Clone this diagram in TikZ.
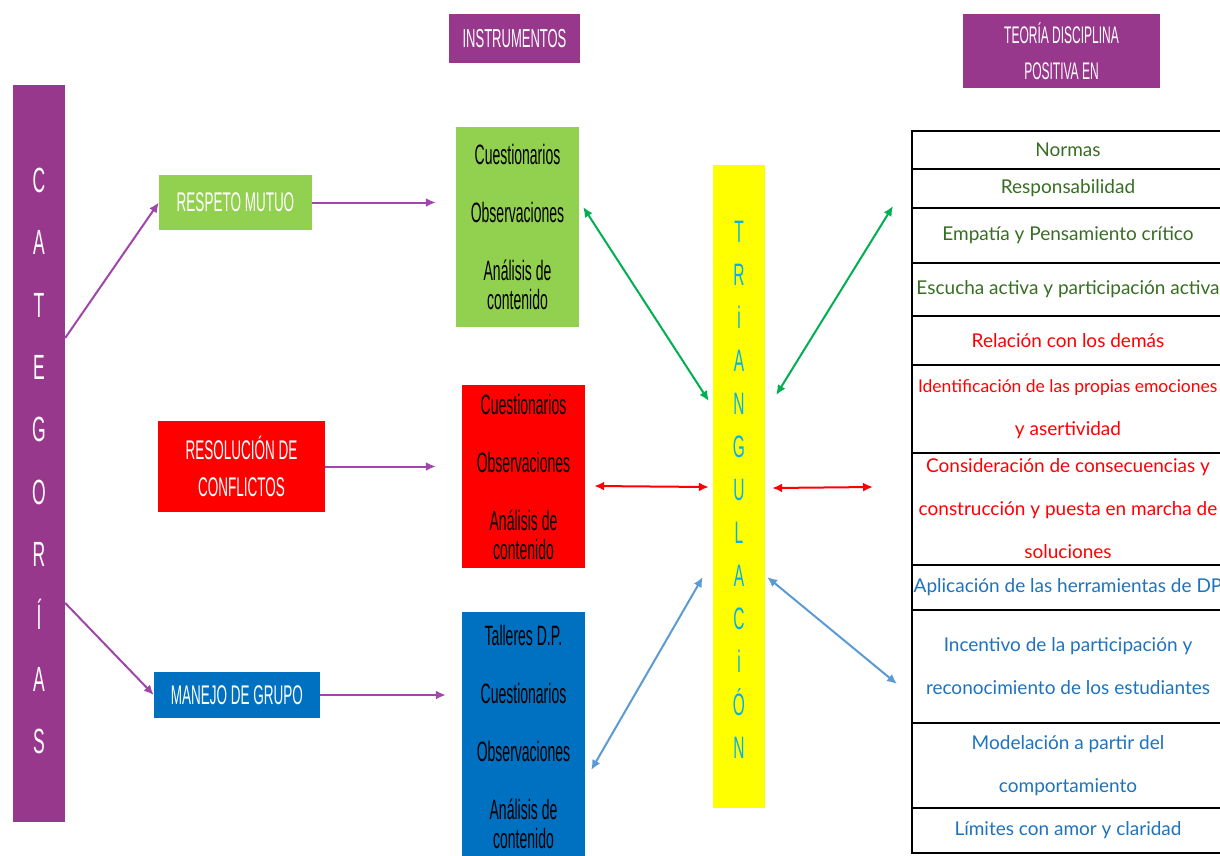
\documentclass[tikz,border=0pt]{standalone}
\usepackage{fontspec}
\setmainfont{Liberation Sans}
\newfontfamily\condfont[FakeStretch=0.5]{Liberation Sans}
\newfontfamily\handfont{Lato}
\usetikzlibrary{arrows.meta}
\usetikzlibrary{positioning}

\definecolor{morado}{RGB}{152,56,140}
\definecolor{flechamorada}{RGB}{160,70,170}
\definecolor{verdecaja}{RGB}{146,208,80}
\definecolor{rojocaja}{RGB}{255,0,0}
\definecolor{azulcaja}{RGB}{0,112,192}
\definecolor{amarillo}{RGB}{255,255,0}
\definecolor{celeste}{RGB}{0,176,240}
\definecolor{verdeflecha}{RGB}{0,176,80}
\definecolor{azulflecha}{RGB}{91,155,213}
\definecolor{verdetexto}{RGB}{56,110,36}
\definecolor{azultexto}{RGB}{30,115,190}

\tikzset{
  titulo/.style={fill=morado, text=white, inner sep=0pt, align=center,
    font=\condfont\fontsize{26}{36}\selectfont},
  categoria/.style={text=white, inner sep=0pt, align=center,
    font=\condfont\fontsize{27}{37}\selectfont},
  instrumento/.style={minimum width=123pt, inner sep=0pt, align=center,
    text=black, font=\condfont\fontsize{28}{29}\selectfont},
  fila/.style={draw, line width=1.2pt, minimum width=312pt,
    inner sep=0pt, outer sep=0pt, align=center,
    font=\handfont\fontsize{19}{43}\selectfont},
  punta/.style={-{Latex[length=10pt,width=9pt]}},
  flecha/.style={draw=flechamorada, line width=2pt, punta},
  doble/.style={line width=2pt, {Latex[length=10pt,width=9pt]}-{Latex[length=10pt,width=9pt]}},
}

\begin{document}
\begin{tikzpicture}[x=1pt,y=-1pt]
  \fill[white] (0,0) rectangle (1220,855);
  \useasboundingbox (0,0) rectangle (1220,855);

  % titulos
  \node[titulo, minimum width=131pt, minimum height=49pt] (instrumentos)
    at (514.5,38.5) {INSTRUMENTOS};
  \node[titulo, font=\condfont\fontsize{24}{36}\selectfont, minimum width=197pt,
    minimum height=74pt] (teoria) at (1061.5,51) {TEORÍA DISCIPLINA\\POSITIVA EN};

  % categorias
  \node[fill=morado, minimum width=52pt, minimum height=737pt, inner sep=0pt]
    (categorias) at (39,453.5) {};
  \node[text=white, align=center, inner sep=0pt,
    font=\condfont\fontsize{35}{62.4}\selectfont] (catletras) at (39,461)
    {C\\A\\T\\E\\G\\O\\R\\Í\\A\\S};

  \node[categoria, fill=verdecaja, minimum width=153pt, minimum height=55pt]
    (respeto) at (235.5,202.5) {RESPETO MUTUO};
  \node[categoria, fill=rojocaja, minimum width=167pt, minimum height=91pt]
    (resolucion) at (241.5,466.5) {RESOLUCIÓN DE\\CONFLICTOS};
  \node[categoria, fill=azulcaja, minimum width=166pt, minimum height=46pt]
    (manejo) at (237,695) {MANEJO DE GRUPO};

  % instrumentos
  \node[instrumento, fill=verdecaja, minimum height=200pt] (instverde)
    at (517.5,227) {Cuestionarios\\[29pt]Observaciones\\[29pt]Análisis de\\contenido};
  \node[instrumento, fill=rojocaja, minimum height=183pt] (instrojo)
    at (523.5,476.5) {Cuestionarios\\[29pt]Observaciones\\[29pt]Análisis de\\contenido};
  \node[instrumento, fill=azulcaja, minimum height=250pt] (instazul)
    at (523.5,737) {Talleres D.P.\\[29pt]Cuestionarios\\[29pt]Observaciones\\[29pt]Análisis de\\contenido};

  % triangulacion
  \node[fill=amarillo, minimum width=52pt, minimum height=643pt, inner sep=0pt]
    (triang) at (739,486.5) {};
  \node[text=celeste, align=center, inner sep=0pt,
    font=\condfont\fontsize{31}{43}\selectfont] (trianglet) at (739,490)
    {T\\R\\i\\A\\N\\G\\U\\L\\A\\C\\i\\Ó\\N};

  % tabla
  \node[fila, text=verdetexto, minimum height=38pt] (r1) at (1068,150) {Normas};
  \node[fila, text=verdetexto, minimum height=39pt, below=0pt of r1] (r2) {Responsabilidad};
  \node[fila, text=verdetexto, minimum height=55pt, below=0pt of r2] (r3) {Empatía y Pensamiento crítico};
  \node[fila, text=verdetexto, minimum height=53pt, below=0pt of r3] (r4) {Escucha activa y participación activa};
  \node[fila, text=rojocaja, minimum height=49pt, below=0pt of r4] (r5) {Relación con los demás};
  \node[fila, text=rojocaja, minimum height=88pt, below=0pt of r5] (r6)
    {\makebox[300pt][l]{\fontsize{17.5}{43}\selectfont Identificación de las propias emociones}\\y asertividad};
  \node[fila, text=rojocaja, minimum height=112pt, below=0pt of r6] (r7)
    {Consideración de consecuencias y\\construcción y puesta en marcha de\\soluciones};
  \node[fila, text=azultexto, minimum height=45pt, below=0pt of r7] (r8) {Aplicación de las herramientas de DP};
  \node[fila, text=azultexto, minimum height=113pt, below=0pt of r8] (r9)
    {Incentivo de la participación y\\reconocimiento de los estudiantes};
  \node[fila, text=azultexto, minimum height=85pt, below=0pt of r9] (r10)
    {Modelación a partir del\\comportamiento};
  \node[fila, text=azultexto, minimum height=45pt, below=0pt of r10] (r11) {Límites con amor y claridad};
  \draw[line width=2.4pt] (r5.north west) -- (r5.north east);
  \draw[line width=2.4pt] (r8.north west) -- (r8.north east);

  % flechas
  \draw[flecha] ([shift={(0,-115.5)}]categorias.east) -- (respeto.west);
  \draw[flecha] ([shift={(0,149.5)}]categorias.east) -- (manejo.west);
  \draw[flecha] (respeto.east) -- ([xshift=-20pt]instverde.west |- respeto.east);
  \draw[flecha] (resolucion.east) -- ([xshift=-26pt]instrojo.west |- resolucion.east);
  \draw[flecha] (manejo.east) -- ([xshift=-16pt]instazul.west |- manejo.east);

  \draw[doble, verdeflecha] ([shift={(4,-20)}]instverde.east) -- ([shift={(-4,-85.5)}]triang.west);
  \draw[doble, verdeflecha] ([shift={(11,-91.5)}]triang.east) -- ([shift={(-19,-29.5)}]r3.west);
  \draw[doble, rojocaja] ([shift={(9,9.5)}]instrojo.east) -- ([shift={(-4,0.5)}]triang.west);
  \draw[doble, rojocaja] ([shift={(7,1.5)}]triang.east) -- ([shift={(-39,-22)}]r7.west);
  \draw[doble, azulflecha] ([shift={(6,33)}]instazul.east) -- ([shift={(-10,90.5)}]triang.west);
  \draw[doble, azulflecha] ([shift={(2,90.5)}]triang.east) -- ([shift={(-15,17.5)}]r9.west);
\end{tikzpicture}
\end{document}
